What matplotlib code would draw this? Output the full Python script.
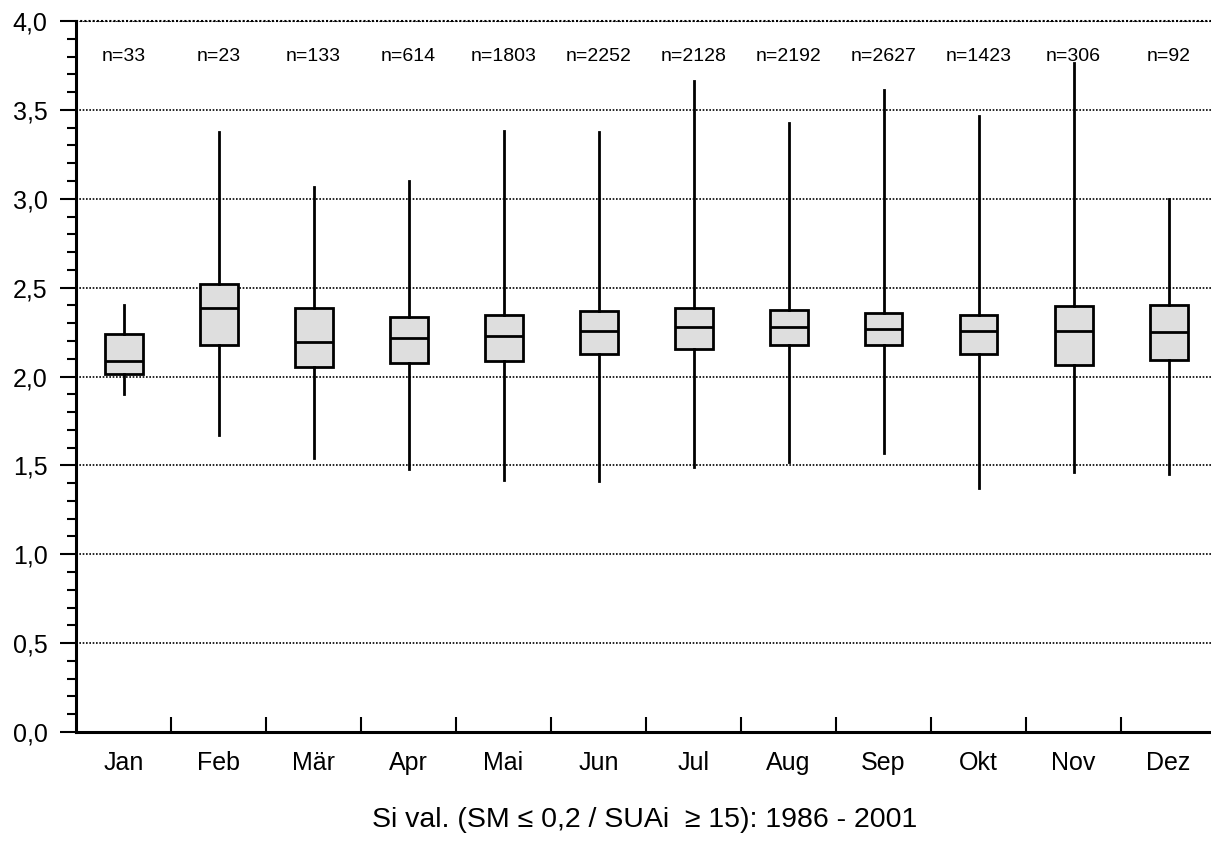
import numpy as np
import matplotlib
matplotlib.use("Agg")
import matplotlib.pyplot as plt
from matplotlib.ticker import MultipleLocator, FixedLocator, FuncFormatter

MONTHS = ["Jan", "Feb", "Mär", "Apr", "Mai", "Jun", "Jul", "Aug", "Sep", "Okt", "Nov", "Dez"]
N_COUNTS = [33, 23, 133, 614, 1803, 2252, 2128, 2192, 2627, 1423, 306, 92]
WHISK_LO = [1.90, 1.67, 1.54, 1.48, 1.42, 1.41, 1.49, 1.52, 1.57, 1.37, 1.46, 1.45]
Q1 = [2.015, 2.175, 2.055, 2.076, 2.087, 2.128, 2.157, 2.175, 2.175, 2.128, 2.066, 2.093]
MEDIAN = [2.087, 2.387, 2.196, 2.217, 2.226, 2.256, 2.277, 2.277, 2.267, 2.256, 2.256, 2.249]
Q3 = [2.24, 2.522, 2.387, 2.337, 2.348, 2.367, 2.387, 2.374, 2.357, 2.346, 2.398, 2.402]
WHISK_HI = [2.40, 3.375, 3.068, 3.10, 3.383, 3.376, 3.664, 3.426, 3.614, 3.466, 3.762, 3.00]

TITLE = "Si val. (SM \u2264 0,2 / SUAi  \u2265 15): 1986 - 2001"

plt.rcParams["font.family"] = ["Liberation Sans", "DejaVu Sans"]


def build_stats():
    stats = []
    for i in range(len(MONTHS)):
        stats.append({
            "med": MEDIAN[i], "q1": Q1[i], "q3": Q3[i],
            "whislo": WHISK_LO[i], "whishi": WHISK_HI[i],
            "fliers": [], "label": MONTHS[i],
        })
    return stats


def main():
    fig = plt.figure(figsize=(12.11, 8.61), dpi=100)
    ax = fig.add_axes([76 / 1211, 129 / 861, 1140 / 1211, 711 / 861])

    pos = np.arange(len(MONTHS))
    ax.bxp(build_stats(), positions=pos, widths=0.4, showcaps=False,
           patch_artist=True,
           boxprops=dict(facecolor="#dedede", edgecolor="black", linewidth=2),
           medianprops=dict(color="black", linewidth=2),
           whiskerprops=dict(color="black", linewidth=2),
           zorder=3)

    for x, n in zip(pos, N_COUNTS):
        ax.text(x, 3.8, f"n={n}", ha="center", va="center", fontsize=14)

    ax.set_xlim(-0.5, len(MONTHS) - 0.5)
    ax.set_ylim(0, 4.0)

    ax.yaxis.set_major_locator(MultipleLocator(0.5))
    ax.yaxis.set_minor_locator(MultipleLocator(0.1))
    ax.yaxis.set_major_formatter(FuncFormatter(lambda v, p: f"{v:.1f}".replace(".", ",")))
    ax.tick_params(axis="y", which="major", direction="out", length=11.5, width=1.5,
                   labelsize=18, pad=9)
    ax.tick_params(axis="y", which="minor", direction="out", length=6.5, width=1.5)

    ax.xaxis.set_major_locator(FixedLocator(pos))
    ax.set_xticklabels(MONTHS)
    ax.xaxis.set_minor_locator(FixedLocator(pos[:-1] + 0.5))
    ax.tick_params(axis="x", which="major", length=0, labelsize=18, pad=14)
    ax.tick_params(axis="x", which="minor", direction="in", length=11, width=1.5)

    ax.grid(axis="y", which="major", linestyle=(0, (1, 1)), color="black", linewidth=1.2)
    ax.set_axisbelow(True)
    ax.plot([-0.5, len(MONTHS) - 0.5], [4.0, 4.0], linestyle=(0, (1, 1)), color="black",
            linewidth=1.5, clip_on=False)

    for side in ("top", "right"):
        ax.spines[side].set_visible(False)
    for side in ("left", "bottom"):
        ax.spines[side].set_linewidth(2.2)

    fig.text(645 / 1211, 1 - 820 / 861, TITLE, ha="center", va="center", fontsize=20.5)

    fig.savefig("out.png", dpi=100)
    plt.close(fig)


if __name__ == "__main__":
    main()
